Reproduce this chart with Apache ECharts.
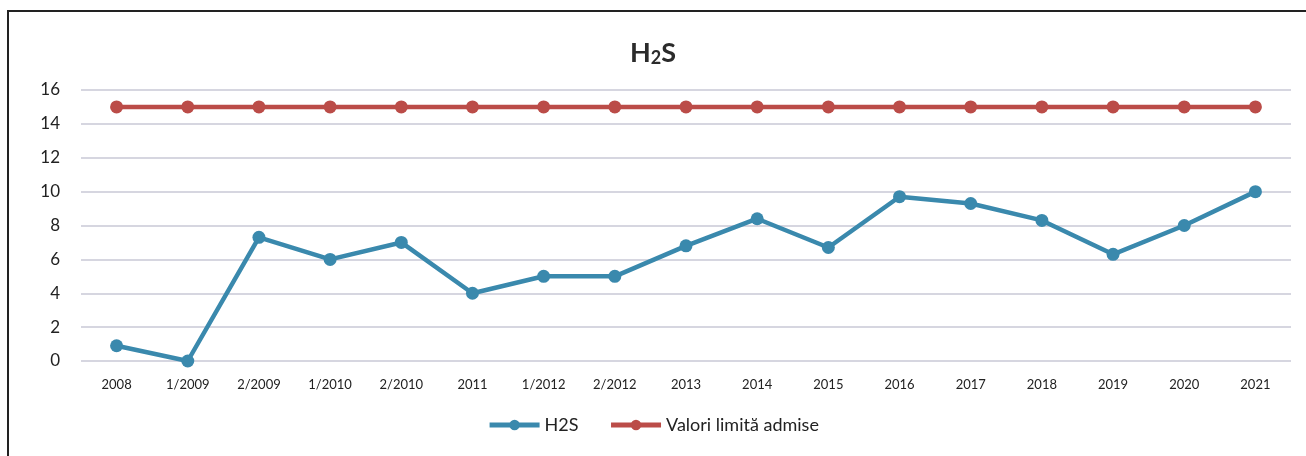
<!DOCTYPE html>
<html><head><meta charset="utf-8">
<script src="https://cdn.jsdelivr.net/npm/echarts@6/dist/echarts.min.js"></script>
<style>html,body{margin:0;padding:0;background:#fff}#c{width:1306px;height:456px}</style>
</head><body><div id="c"></div>
<script>
const categories = ['2008','1/2009','2/2009','1/2010','2/2010','2011','1/2012','2/2012','2013','2014','2015','2016','2017','2018','2019','2020','2021'];
const h2sValues = [0.9, 0, 7.3, 6.0, 7.0, 4.0, 5.0, 5.0, 6.8, 8.4, 6.7, 9.7, 9.3, 8.3, 6.3, 8.0, 10.0];
const limitValues = [15,15,15,15,15,15,15,15,15,15,15,15,15,15,15,15,15];
const yTicks = [0,2,4,6,8,10,12,14,16];

const chart = echarts.init(document.getElementById('c'));
const font = 'Lato, "Open Sans", sans-serif';
chart.setOption({
  animation: false,
  graphic: [{
    type: 'rect', shape: {x: 8, y: 11, width: 1310, height: 460},
    style: {fill: 'none', stroke: '#222', lineWidth: 2}, silent: true
  }],
  title: {
    text: '{m|H}{s|2}{m|S}', left: 'center', top: 35,
    textStyle: {
      rich: {
        m: {fontFamily: font, fontSize: 27, fontWeight: 'bold', color: '#2b2b2b', verticalAlign: 'bottom'},
        s: {fontFamily: font, fontSize: 18, fontWeight: 'bold', color: '#2b2b2b', verticalAlign: 'bottom'}
      }
    }
  },
  legend: {
    bottom: 17, left: 'center', itemWidth: 50, itemHeight: 13, itemGap: 30,
    textStyle: {fontFamily: font, fontSize: 18, color: '#222'},
    lineStyle: {width: 5},
    data: ['H2S', 'Valori limită admise']
  },
  grid: {left: 81, right: 15, top: 90, bottom: 95},
  xAxis: {
    type: 'category', data: categories, boundaryGap: true,
    axisLine: {show: false}, axisTick: {show: false},
    axisLabel: {fontFamily: font, fontSize: 13, color: '#222', margin: 17, interval: 0}
  },
  yAxis: {
    type: 'value', min: yTicks[0], max: yTicks[yTicks.length-1], interval: 2,
    axisLine: {show: false}, axisTick: {show: false},
    axisLabel: {fontFamily: font, fontSize: 17, color: '#222', margin: 21},
    splitLine: {lineStyle: {color: '#c9c9d6', width: 1.5}}
  },
  series: [{
    name: 'H2S', type: 'line', data: h2sValues,
    symbol: 'circle', symbolSize: 13,
    lineStyle: {color: '#3a89ad', width: 4.5},
    itemStyle: {color: '#3a89ad'}
  }, {
    name: 'Valori limită admise', type: 'line', data: limitValues,
    symbol: 'circle', symbolSize: 13,
    lineStyle: {color: '#bb4c48', width: 4.5},
    itemStyle: {color: '#bb4c48'}
  }]
});
</script></body></html>
